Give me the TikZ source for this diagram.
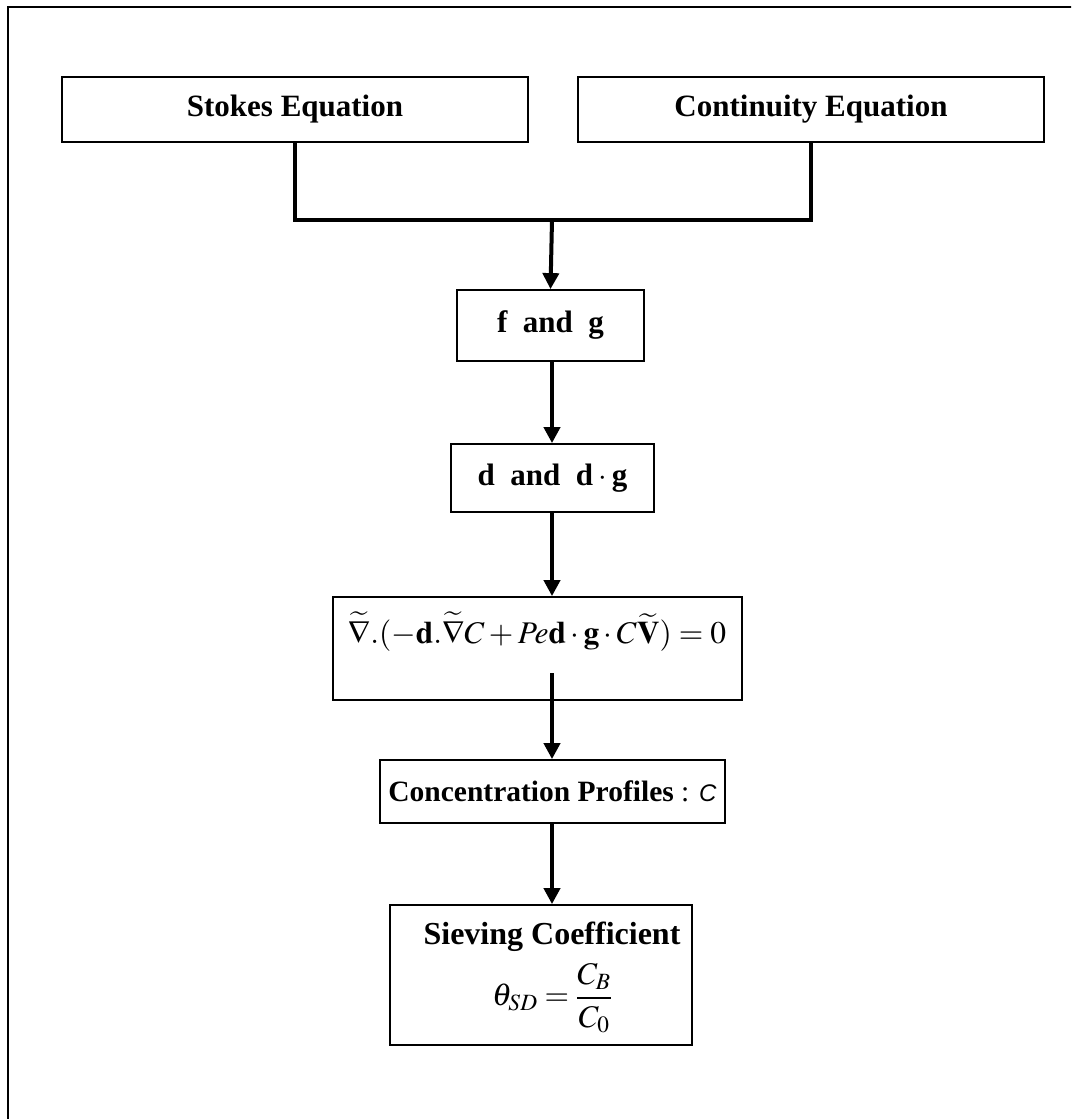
\documentclass[tikz,border=0pt]{standalone}
\usepackage{mathptmx}
\usepackage{fontspec}
\setmainfont{Liberation Serif}
\newfontfamily\sansf{Liberation Sans}
\usetikzlibrary{arrows.meta}
\newcommand{\lab}{\fontsize{31}{37}\selectfont\bfseries}
\newcommand{\eqf}{\fontsize{31.5}{37}\selectfont}
\begin{document}
\begin{tikzpicture}[x=1pt,y=-1pt,
  box/.style={draw, line width=1.8pt, inner sep=0pt, font=\lab},
  conn/.style={line width=4pt, line join=miter},
  arr/.style={line width=4pt, -{Triangle[length=16pt,width=16pt]}}]
\clip (0,0) rectangle (1071,1119);
\fill[white] (0,0) rectangle (1071,1119);
\draw[line width=1.8pt] (8,7) rectangle (1100,1150);
% boxes
\node[box, minimum width=466pt, minimum height=65pt] (stokes) at (295,109.5) {Stokes Equation};
\node[box, minimum width=466pt, minimum height=65pt] (cont) at (811,109.5) {Continuity Equation};
\node[box, minimum width=187pt, minimum height=71pt] (fg) at (550.5,325.5) {f\enspace and\enspace g};
\node[box, minimum width=203pt, minimum height=68pt] (dd) at (552.5,478) {d\enspace and\enspace d\,$\cdot$\,g};
\node[box, minimum width=409pt, minimum height=103pt] (eq) at (537.5,648.5) {};
\node[font=\eqf, inner sep=0pt] (eqt) at (537,632) {$\widetilde{\nabla}.(-\mathbf{d}.\widetilde{\nabla}C+Pe\mathbf{d}\cdot\mathbf{g}\cdot C\widetilde{\mathbf{V}})=0$};
\node[box, minimum width=345pt, minimum height=63pt, font=\fontsize{29.5}{35}\selectfont\bfseries] (conc) at (552.5,791.5) {Concentration Profiles {\mdseries :} {\sansf\mdseries\itshape\fontsize{24}{28}\selectfont C}};
\node[box, minimum width=302pt, minimum height=140pt] (siev) at (541,975) {};
\node[font=\lab\fontsize{32}{38}\selectfont, inner sep=0pt] (sievt) at (552,937) {Sieving Coefficient};
\node[font=\eqf, inner sep=0pt] (sieveq) at (552,998) {$\theta_{SD}={\displaystyle\frac{C_B}{C_0}}$};
% connectors
\coordinate (j) at (552,220);
\coordinate (eqs) at (552,673);
\draw[conn] (stokes.south) -- (stokes.south |- j) -- (cont.south |- j) -- (cont.south);
\draw[arr] (j) -- (fg.north);
\draw[arr] (fg.south -| j) -- (dd.north -| j);
\draw[arr] (dd.south -| j) -- (eq.north -| j);
\draw[arr] (eqs) -- (conc.north -| eqs);
\draw[arr] (conc.south -| j) -- (siev.north -| j);
\end{tikzpicture}
\end{document}
